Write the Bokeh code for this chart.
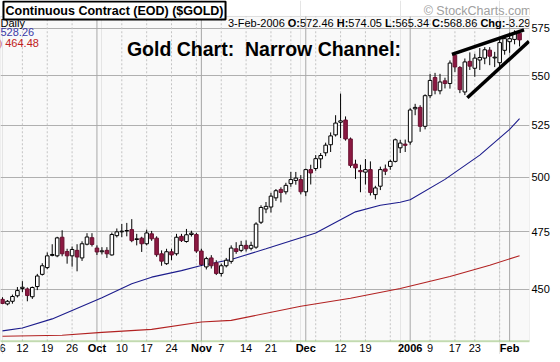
from bokeh.plotting import figure
from bokeh.models import (Range1d, FixedTicker, NumeralTickFormatter, Label,
                          ColumnDataSource, BoxAnnotation, Span)
from bokeh.core.properties import value
from bokeh.embed import file_html
from bokeh.resources import INLINE

# ---------------- data ----------------
months_days = [
    ("2005-09", [6, 7, 8, 9, 12, 13, 14, 15, 16, 19, 20, 21, 22, 23, 26, 27, 28, 29, 30]),
    ("2005-10", [3, 4, 5, 6, 7, 10, 11, 12, 13, 14, 17, 18, 19, 20, 21, 24, 25, 26, 27, 28, 31]),
    ("2005-11", [1, 2, 3, 4, 7, 8, 9, 10, 11, 14, 15, 16, 17, 18, 21, 22, 23, 25, 28, 29, 30]),
    ("2005-12", [1, 2, 5, 6, 7, 8, 9, 12, 13, 14, 15, 16, 19, 20, 21, 22, 23, 27, 28, 29, 30]),
    ("2006-01", [3, 4, 5, 6, 9, 10, 11, 12, 13, 17, 18, 19, 20, 23, 24, 25, 26, 27, 30, 31]),
    ("2006-02", [1, 2, 3]),
]
dates = ["%s-%02d" % (m, d) for m, ds in months_days for d in ds]

opens = [
    445.8, 443.9, 445.0, 447.3, 450.4, 450.2, 446.9, 451.2, 456.4, 459.3,
    464.6, 464.4, 472.6, 466.3, 464.4, 466.8, 463.5, 469.5, 472.4, 467.8,
    466.2, 466.8, 464.8, 473.3, 475.0, 475.4, 476.0, 471.6, 472.2, 469.7,
    474.1, 472.2, 465.3, 461.0, 466.2, 465.3, 473.0, 470.7, 473.8, 473.8,
    466.5, 459.6, 463.5, 461.4, 456.8, 460.1, 462.0, 467.5, 466.8, 469.0,
    467.7, 468.2, 479.3, 485.3, 486.2, 490.4, 494.3, 493.2, 497.0, 498.5,
    498.9, 493.2, 503.6, 504.1, 508.7, 511.6, 515.5, 520.3, 526.5, 527.6,
    518.3, 506.2, 503.2, 502.4, 503.6, 491.9, 495.8, 503.9, 505.1, 507.5,
    514.0, 515.8, 516.8, 533.2, 533.9, 524.5, 539.8, 549.1, 542.3, 547.4,
    546.0, 560.7, 554.3, 541.7, 557.5, 553.9, 558.2, 559.2, 563.4, 559.3,
    556.8, 563.3, 567.9, 569.1, 572.46]
highs = [
    446.7, 445.5, 447.8, 451.0, 453.5, 450.8, 451.2, 456.6, 461.2, 465.9,
    469.5, 472.8, 475.7, 467.5, 468.5, 469.5, 470.8, 474.4, 474.4, 469.0,
    468.2, 468.2, 474.7, 476.5, 478.5, 479.0, 480.7, 474.1, 472.8, 476.0,
    475.4, 473.0, 466.8, 467.5, 467.5, 474.1, 474.1, 476.3, 475.5, 474.5,
    467.5, 464.0, 464.7, 462.5, 461.0, 463.5, 469.0, 470.4, 471.0, 471.2,
    470.6, 479.3, 487.0, 488.5, 492.7, 494.5, 495.3, 497.4, 502.5, 502.5,
    501.0, 504.0, 505.9, 510.5, 511.5, 516.5, 521.5, 530.0, 540.9, 529.4,
    519.0, 508.3, 505.9, 508.6, 507.5, 496.0, 505.0, 506.0, 508.3, 518.5,
    517.9, 518.0, 533.5, 535.7, 535.0, 540.5, 551.0, 551.5, 551.0, 549.0,
    558.0, 562.2, 555.0, 559.0, 562.2, 561.5, 564.5, 565.0, 565.0, 562.5,
    569.0, 571.5, 572.8, 574.0, 574.05]
lows = [
    443.8, 443.3, 444.0, 446.6, 448.9, 445.0, 446.0, 449.7, 455.9, 458.6,
    464.2, 463.8, 464.2, 461.0, 459.7, 457.7, 462.2, 469.0, 468.5, 464.8,
    465.0, 463.5, 464.5, 472.5, 472.6, 473.0, 470.4, 469.0, 466.1, 469.0,
    471.0, 464.0, 460.1, 460.5, 462.5, 464.5, 470.5, 470.2, 472.9, 465.7,
    460.1, 458.5, 458.9, 456.1, 455.5, 459.4, 461.0, 465.3, 466.0, 466.3,
    466.8, 467.5, 478.5, 483.4, 483.7, 489.0, 488.3, 492.0, 495.5, 496.5,
    492.0, 491.2, 496.6, 503.0, 504.3, 510.0, 512.0, 519.5, 518.7, 517.5,
    504.5, 499.2, 493.0, 496.6, 491.5, 489.7, 494.0, 501.0, 503.5, 507.0,
    511.5, 512.0, 515.5, 530.0, 521.8, 523.0, 538.5, 540.5, 540.5, 543.5,
    543.4, 552.0, 541.1, 540.1, 553.0, 549.5, 553.0, 556.0, 555.5, 554.5,
    554.0, 561.0, 562.0, 566.5, 565.34]
closes = [
    444.1, 445.0, 447.0, 449.5, 450.9, 447.4, 450.8, 455.7, 460.1, 464.4,
    465.0, 472.3, 465.3, 464.4, 467.2, 463.9, 469.7, 472.7, 469.4, 466.1,
    466.6, 465.3, 473.8, 475.0, 475.3, 475.6, 471.1, 471.9, 469.7, 474.5,
    471.9, 464.9, 462.1, 466.2, 464.8, 472.6, 471.1, 473.7, 474.4, 466.5,
    460.6, 463.2, 460.1, 456.8, 460.1, 462.5, 467.8, 466.3, 469.0, 467.5,
    469.0, 478.5, 486.0, 486.5, 491.2, 493.7, 492.9, 496.2, 498.9, 499.6,
    493.2, 503.6, 502.0, 508.8, 510.3, 515.3, 519.8, 526.1, 527.2, 518.3,
    505.6, 504.4, 502.6, 503.6, 492.9, 495.0, 503.6, 502.8, 507.5, 517.9,
    516.3, 515.2, 532.6, 533.9, 524.5, 539.8, 547.6, 542.6, 546.8, 546.0,
    556.6, 554.6, 542.9, 557.2, 555.0, 559.2, 559.5, 563.6, 560.2, 559.7,
    567.4, 569.5, 569.5, 572.15, 568.86]

# moving averages (trading-day index, value)
ma50_idx = [0, 4, 10, 20, 26, 30, 36, 40, 46, 53, 63, 71, 76, 80, 82, 89, 96, 102, 104]
ma50_val = [432.8, 434.0, 437.7, 446.5, 452.4, 455.2, 458.0, 460.2, 462.8, 467.5,
            474.5, 484.0, 487.0, 488.4, 489.5, 499.0, 510.5, 523.0, 528.26]
ma200_idx = [0, 12, 20, 30, 40, 46, 60, 70, 80, 90, 98, 104]
ma200_val = [430.6, 431.0, 432.2, 433.4, 436.4, 437.1, 442.9, 446.3, 450.4, 455.5,
             460.3, 464.48]

# hand-drawn channel lines (trading-day index, price)
upper_idx = [90.4, 104.9]
upper_val = [561.2, 574.2]
lower_idx = [93.5, 105.9]
lower_val = [538.8, 568.1]

week_ticks = [0, 4, 9, 14, 24, 29, 34, 44, 49, 54, 68, 73, 86, 91, 95]
week_labels = ["6", "12", "19", "26", "10", "17", "24", "7", "14", "21", "12", "19",
               "9", "17", "23"]
week_grid = [4, 9, 14, 24, 29, 34, 39, 44, 49, 54, 58, 63, 68, 73, 78, 86, 91, 95, 100]
month_ticks = [19, 40, 61, 82, 102]
month_labels = ["Oct", "Nov", "Dec", "2006", "Feb"]
y_ticks = [450, 475, 500, 525, 550, 575]

FONT = "Liberation Sans"
UP_FILL = "white"
DOWN_FILL = "#8c1942"

PANE_TOP = 581.5      # price at the top edge of the price pane
PANE_BOTTOM = 428.6   # price at the bottom edge of the price pane
LABEL_PRICE = 425.8   # level of the date labels, below the pane

W, H = 552, 354

# ---------------- figure ----------------
p = figure(width=W, height=H, x_range=Range1d(-0.4, 106.0),
           y_range=Range1d(423.3, 590.3), y_axis_type="log",
           y_axis_location="right", x_axis_location=None,
           output_backend="svg", toolbar_location=None,
           min_border_left=0, min_border_right=20, min_border_top=0,
           min_border_bottom=0)
p.background_fill_color = "white"
p.border_fill_color = "white"
p.outline_line_color = None

# price pane background and border
p.add_layout(BoxAnnotation(bottom=PANE_BOTTOM, top=PANE_TOP, fill_color="#f9f9f9",
                           fill_alpha=1, line_color="#9a9a9a", line_width=1,
                           level="image"))

# y axis
p.yaxis.ticker = FixedTicker(ticks=y_ticks)
p.yaxis.formatter = NumeralTickFormatter(format="0")
p.yaxis.major_tick_out = 0
p.yaxis.major_tick_in = 0
p.yaxis.minor_tick_out = 0
p.yaxis.minor_tick_in = 0
p.yaxis.axis_line_color = None
p.yaxis.major_label_standoff = 2
p.yaxis.major_label_text_font = FONT
p.yaxis.major_label_text_font_size = "11px"
p.yaxis.major_label_text_color = "black"
p.ygrid.grid_line_color = "#b0b0b0"
p.ygrid.grid_line_width = 1

# vertical grid lines: weekly dashed, monthly solid
p.segment(x0=week_grid, x1=week_grid, y0=[PANE_BOTTOM] * len(week_grid),
          y1=[PANE_TOP] * len(week_grid), line_color="#c4c4c4", line_dash="2 2",
          line_width=1)
p.segment(x0=month_ticks, x1=month_ticks, y0=[PANE_BOTTOM] * len(month_ticks),
          y1=[PANE_TOP] * len(month_ticks), line_color="#a8a8a8", line_width=1)

# green dotted baseline of the date axis
p.add_layout(Span(location=PANE_BOTTOM, dimension="width", line_color="#9ccc78",
                  line_dash="1 1", line_width=2))

# date labels
p.text(x=week_ticks, y=[LABEL_PRICE] * len(week_ticks), text=week_labels,
       text_font=value(FONT), text_font_size="11px", text_align="center",
       text_baseline="middle", text_color="black")
p.text(x=month_ticks, y=[LABEL_PRICE] * len(month_ticks), text=month_labels,
       text_font=value(FONT), text_font_size="11px", text_font_style="bold",
       text_align="center", text_baseline="middle", text_color="black")

# moving averages
p.line(ma200_idx, ma200_val, line_color="#b22222", line_width=1.1)
p.line(ma50_idx, ma50_val, line_color="#1c1c8c", line_width=1.1)

# candles
idx = list(range(len(dates)))
up = [c >= o for o, c in zip(opens, closes)]
src = ColumnDataSource(dict(
    x=idx, date=dates, open=opens, high=highs, low=lows, close=closes,
    top=[max(o, c) for o, c in zip(opens, closes)],
    bottom=[min(o, c) for o, c in zip(opens, closes)],
    fill=[UP_FILL if u else DOWN_FILL for u in up],
    line=["black" if u else "#6a1030" for u in up],
))
p.segment(x0="x", x1="x", y0="low", y1="high", source=src, line_color="black",
          line_width=1)
p.vbar(x="x", width=0.72, top="top", bottom="bottom", source=src,
       fill_color="fill", line_color="line", line_width=1)

# channel lines
p.line(upper_idx, upper_val, line_color="black", line_width=3.5)
p.line(lower_idx, lower_val, line_color="black", line_width=3.5)

# annotation texts, placed in pixels from the frame's bottom-left
def fy(sy):
    return H - sy

def add_text(txt, sx, sy, size="11px", style="normal", color="black",
             align="left", **kw):
    p.add_layout(Label(x=sx, y=fy(sy), x_units="screen", y_units="screen",
                       text=txt, text_font=FONT, text_font_size=size,
                       text_font_style=style, text_color=color,
                       text_align=align, text_baseline="middle", **kw))

add_text("Daily", 0, 22)
add_text("528.26", 0, 31.5, color="#3a3aa8")
add_text(") 464.48", -2, 42, color="#c02020")

add_text("Continuous Contract (EOD) ($GOLD)", 3, 10, size="12.5px", style="bold",
         background_fill_color="white", border_line_color="black",
         border_line_width=2, padding=2)

add_text("\u00a9 StockCharts.com", 531, 10.5, size="12.5px", color="#a0a0a0",
         align="right")

header_parts = [
    ("3-Feb-2006", "normal", 227.4), ("O:", "bold", 287.3), ("572.46", "normal", 299.5),
    ("H:", "bold", 336.2), ("574.05", "normal", 347.8), ("L:", "bold", 384.5),
    ("565.34", "normal", 394.9), ("C:", "bold", 431.6), ("568.86", "normal", 443.2),
    ("Chg:", "bold", 479.9), ("-3.29", "normal", 504.9),
]
for txt, style, sx in header_parts:
    add_text(txt, sx, 22.5, style=style)

add_text("Gold Chart:\u00a0 Narrow Channel:", 263.5, 48.5, size="19.5px",
         style="bold", align="center")

open("out.html", "w").write(file_html(p, INLINE))
